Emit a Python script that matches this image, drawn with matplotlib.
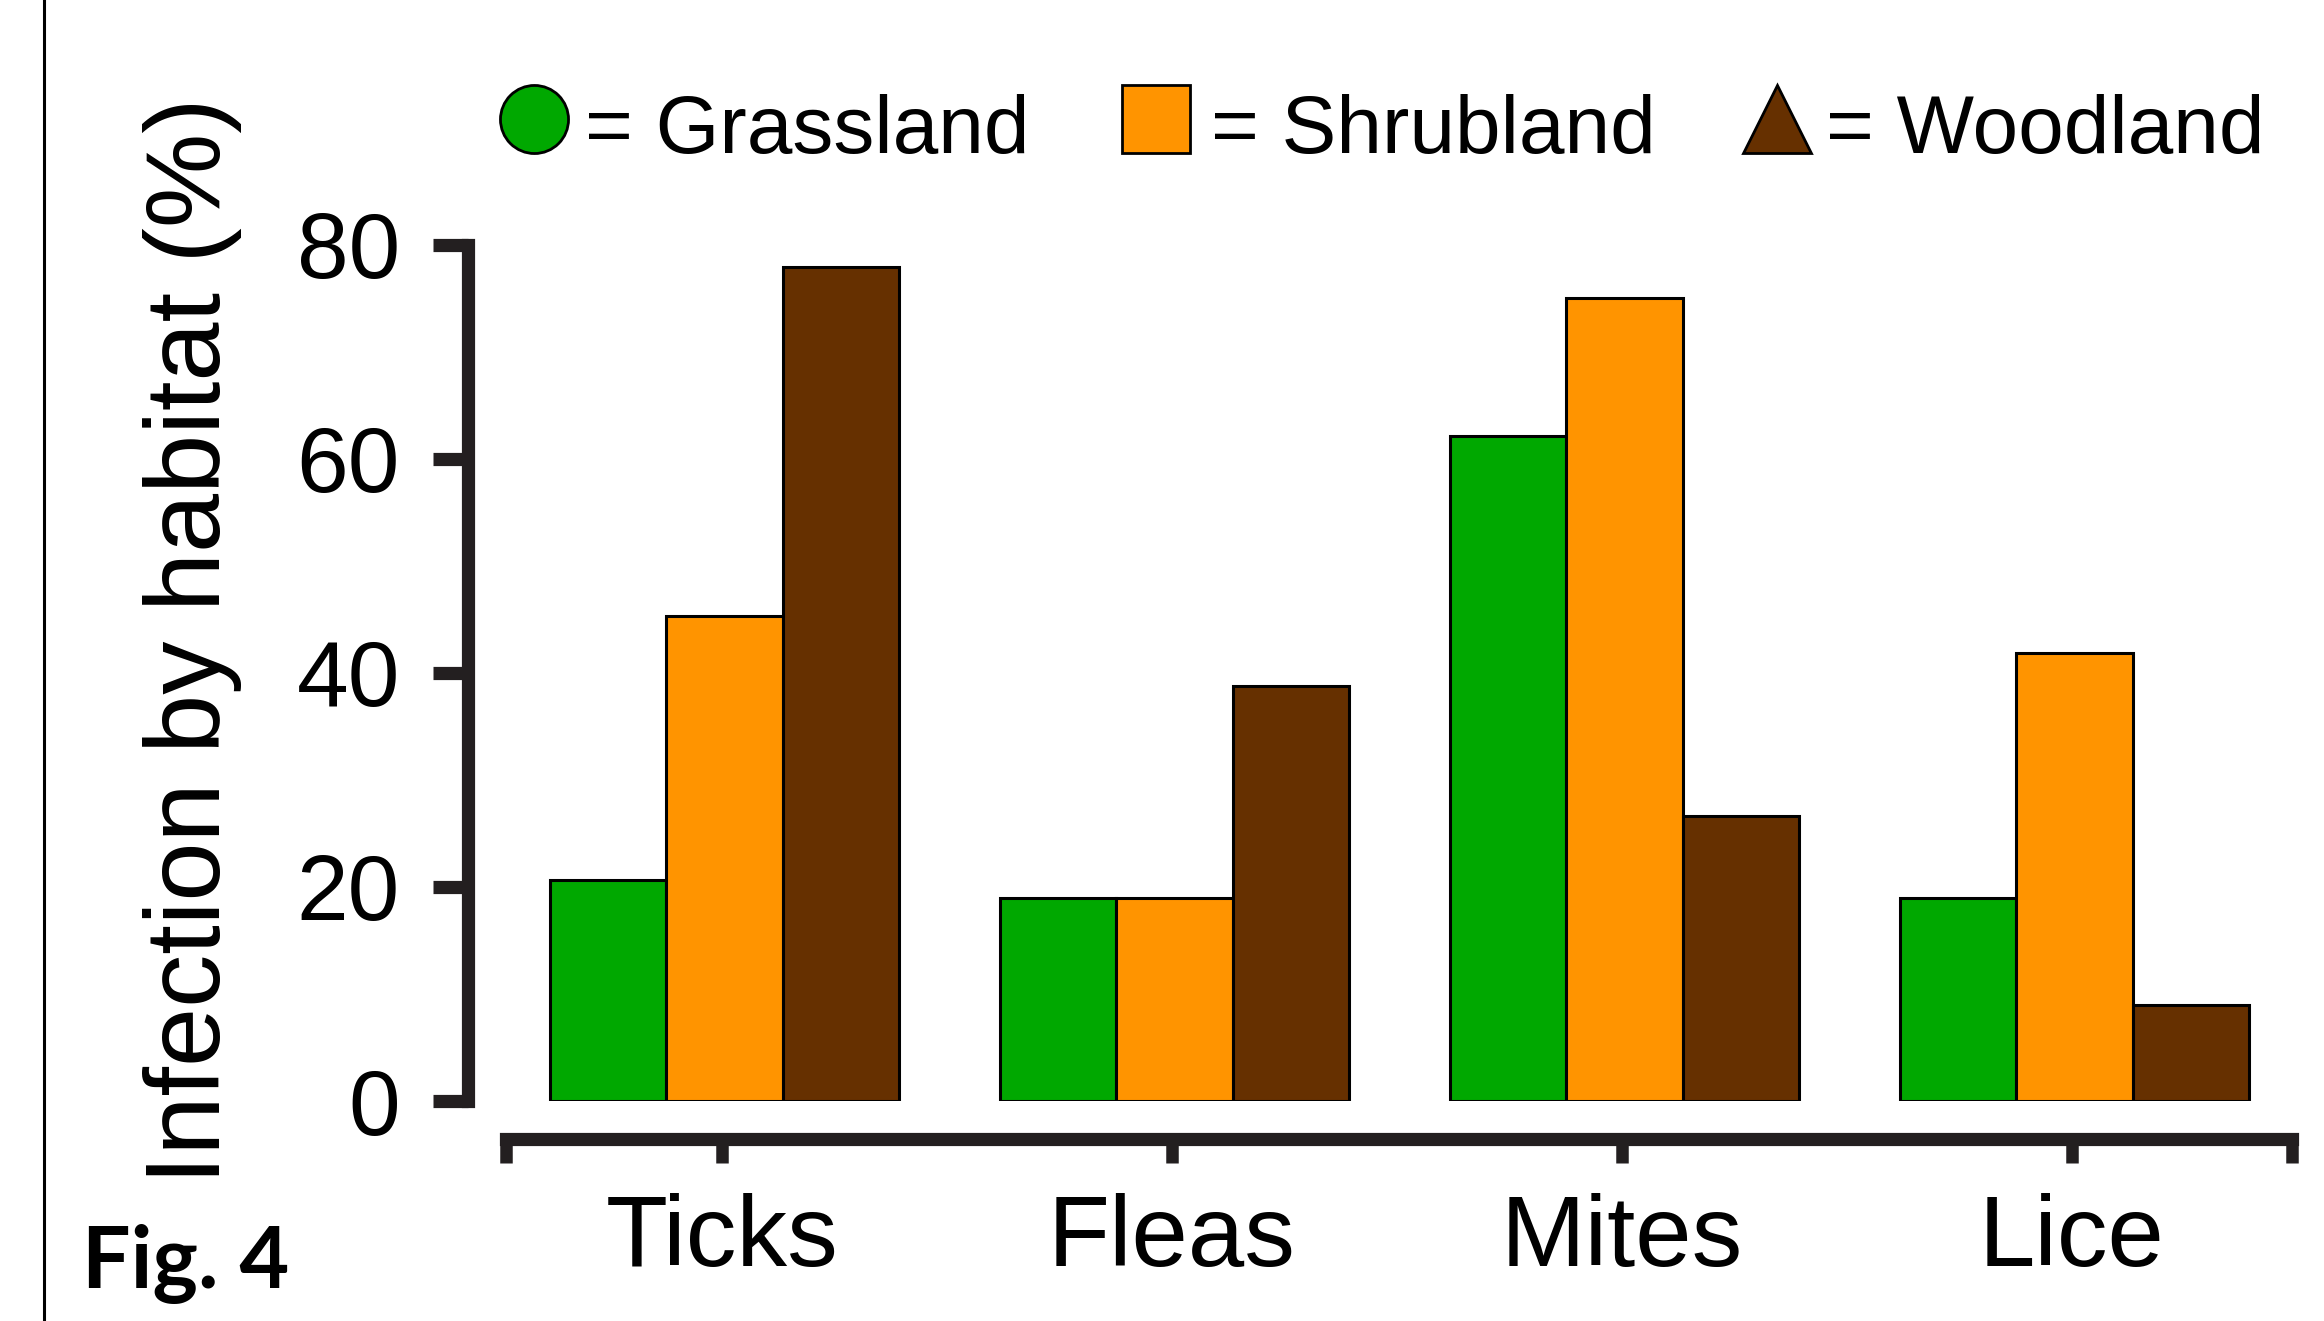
import numpy as np
import matplotlib
matplotlib.use("Agg")
import matplotlib.pyplot as plt
from matplotlib.lines import Line2D

# ---- data ----
categories = ["Ticks", "Fleas", "Mites", "Lice"]
habitats = ["Grassland", "Shrubland", "Woodland"]
grassland = [20.6, 19.0, 62.1, 19.0]
shrubland = [45.3, 19.0, 75.0, 41.8]
woodland = [77.9, 38.8, 26.6, 9.0]
y_ticks = [0, 20, 40, 60, 80]

colors = ["#00A800", "#FF9400", "#663000"]
markers = ["o", "s", "^"]
spine_col = "#231F20"

plt.rcParams["font.family"] = ["Liberation Sans", "DejaVu Sans"]

W, H = 2324, 1321
fig = plt.figure(figsize=(W / 100, H / 100), dpi=100)
ax = fig.add_axes([468 / W, (H - 1101) / H, (2300 - 468) / W, (1101 - 244.5) / H])

x = np.arange(len(categories))
width = 0.258
for i, (vals, col) in enumerate(zip([grassland, shrubland, woodland], colors)):
    ax.bar(x + (i - 1) * width + 0.006, vals, width, color=col, edgecolor="black",
           linewidth=2.2, zorder=3, label=habitats[i])

ax.set_xlim(-0.564, 3.507)
ax.set_ylim(0, 80)

# axes styling: bracket-like spines
for s in ["top", "right"]:
    ax.spines[s].set_visible(False)
ax.spines["left"].set_bounds(0, 80)
ax.spines["left"].set_linewidth(9.5)
ax.spines["left"].set_color(spine_col)
ax.spines["bottom"].set_position(("outward", 27))
ax.spines["bottom"].set_bounds(-0.48, 3.49)
ax.spines["bottom"].set_linewidth(9.5)
ax.spines["bottom"].set_color(spine_col)

ax.set_xticks([-0.48, 0, 1, 2, 3, 3.49])
ax.set_xticklabels([""] + categories + [""])
ax.set_yticks(y_ticks)
ax.set_yticklabels([str(v) for v in y_ticks])
ax.tick_params(axis="x", length=17, width=9, color=spine_col, pad=22, labelsize=73)
ax.tick_params(axis="y", length=25, width=9.5, color=spine_col, pad=24, labelsize=67)

# y label
fig.text(192 / W, 1 - 641 / H, "Infection by habitat (%)", rotation=90,
         fontsize=76.5, ha="center", va="center")

# legend drawn by hand: marker + "= name"
mark_x = [534, 1156, 1777]
text_x = [585, 1211, 1826]
for mx, tx, m, col, name in zip(mark_x, text_x, markers, colors, habitats):
    fig.add_artist(Line2D([mx / W], [1 - 119 / H], marker=m, markersize=49,
                          markerfacecolor=col, markeredgecolor="black",
                          markeredgewidth=2, linestyle="none",
                          transform=fig.transFigure))
    fig.text(tx / W, 1 - 153 / H, "= " + name, fontsize=59, va="baseline")

# frame line on the left and figure tag
fig.add_artist(Line2D([44 / W, 44 / W], [0, 1], color="black", lw=2.2,
                      transform=fig.transFigure))
fig.text(82 / W, 1 - 1288 / H, "Fig. 4", fontsize=62, fontweight="bold",
         family=["Lato", "DejaVu Sans"], va="baseline")

fig.savefig("out.png", dpi=100)
